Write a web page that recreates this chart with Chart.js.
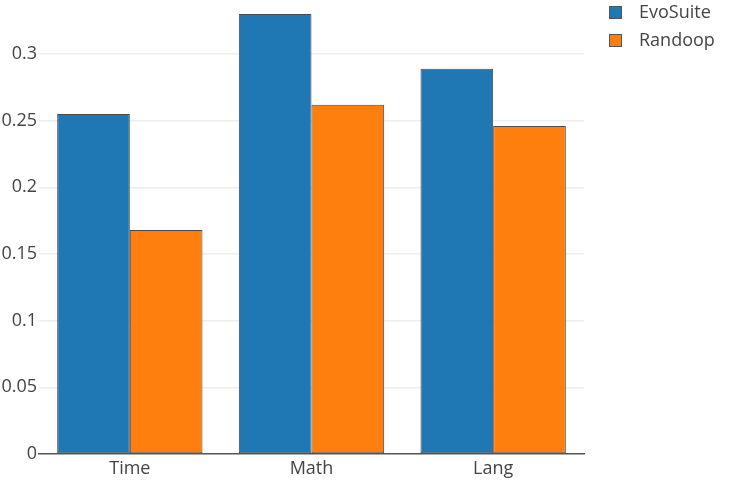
<!DOCTYPE html>
<html>
<head>
<meta charset="utf-8">
<script src="https://cdn.jsdelivr.net/npm/chart.js@4"></script>
<style>
html,body{margin:0;padding:0;background:#fff;}
#wrap{width:739px;height:492px;position:relative;}
</style>
</head>
<body>
<div id="wrap"><canvas id="c"></canvas></div>
<script>
const categories = ["Time", "Math", "Lang"];
const evoSuite = [0.255, 0.330, 0.289];
const randoop = [0.168, 0.262, 0.246];
const seriesNames = ["EvoSuite", "Randoop"];
const yTickValues = [0, 0.05, 0.1, 0.15, 0.2, 0.25, 0.3];
const yTickLabels = ["0", "0.05", "0.1", "0.15", "0.2", "0.25", "0.3"];

const FONT = "'Open Sans', 'DejaVu Sans', sans-serif";

const legendPlugin = {
  id: 'customLegend',
  afterDraw(chart) {
    const ctx = chart.ctx;
    ctx.save();
    chart.data.datasets.forEach((ds, i) => {
      const y = 12 + i * 28;
      ctx.fillStyle = ds.backgroundColor;
      ctx.fillRect(609, y - 6, 13, 13);
      ctx.strokeStyle = '#555';
      ctx.lineWidth = 1;
      ctx.strokeRect(609.5, y - 5.5, 12, 12);
      ctx.fillStyle = '#444';
      ctx.font = '18px ' + FONT;
      ctx.textBaseline = 'middle';
      ctx.textAlign = 'left';
      ctx.fillText(ds.label, 639, y + 1);
    });
    ctx.restore();
  }
};

new Chart(document.getElementById('c'), {
  type: 'bar',
  data: {
    labels: categories,
    datasets: [
      { label: seriesNames[0], data: evoSuite, backgroundColor: '#1f77b4', borderColor: '#4a4a4a', borderWidth: 1, borderSkipped: false, categoryPercentage: 0.8, barPercentage: 1.0 },
      { label: seriesNames[1], data: randoop, backgroundColor: '#ff7f0e', borderColor: '#4a4a4a', borderWidth: 1, borderSkipped: false, categoryPercentage: 0.8, barPercentage: 1.0 }
    ]
  },
  options: {
    responsive: true,
    maintainAspectRatio: false,
    animation: false,
    layout: { padding: { left: 0, right: 155, top: 0, bottom: 0 } },
    plugins: { legend: { display: false }, tooltip: { enabled: false } },
    scales: {
      x: {
        grid: { display: false, drawTicks: false },
        border: { display: true, color: '#555', width: 1.5, z: 1 },
        ticks: { color: '#444', font: { family: FONT, size: 18 }, padding: 4 },
        afterFit(scale) { scale.height = 38; scale.paddingLeft = 0; scale.paddingRight = 0; }
      },
      y: {
        min: 0,
        max: 0.3405,
        afterBuildTicks(axis) { axis.ticks = yTickValues.map(v => ({ value: v })); },
        grid: {
          drawTicks: false,
          lineWidth: 1.5,
          color: (c) => (c.tick && c.tick.value === 0) ? 'rgba(0,0,0,0)' : '#eeeeee'
        },
        border: { display: false },
        ticks: {
          color: '#444',
          font: { family: FONT, size: 18 },
          padding: 2,
          callback: (v, i) => yTickLabels[i]
        },
        afterFit(scale) { scale.width = 39; scale.paddingTop = 0; scale.paddingBottom = 0; }
      }
    }
  },
  plugins: [legendPlugin]
});
</script>
</body>
</html>
